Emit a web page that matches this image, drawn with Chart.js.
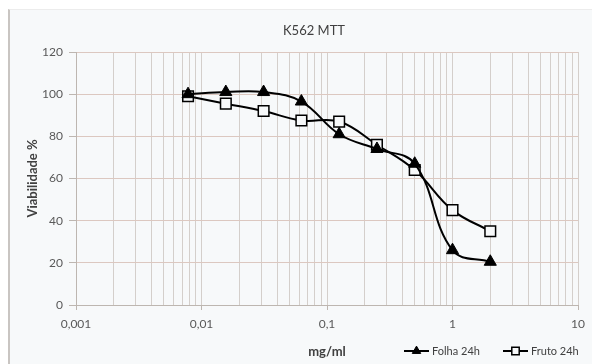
<!DOCTYPE html>
<html>
<head>
<meta charset="utf-8">
<script src="https://cdn.jsdelivr.net/npm/chart.js@4/dist/chart.umd.min.js"></script>
<style>
  html, body { margin: 0; padding: 0; background: #ffffff; }
  #wrap { position: absolute; left: 0; top: 0; width: 592px; height: 364px; }
  #frame { position: absolute; left: 8px; top: 9px; right: 0; bottom: 0;
           background: #f7f9fa; border-left: 2px solid #c9c5c2; border-top: 1px solid #ececec; }
  canvas { position: absolute; left: 0; top: 0; }
</style>
</head>
<body>
<div id="wrap">
  <div id="frame"></div>
  <canvas id="chart" width="592" height="364"></canvas>
</div>
<script>
// concentrations (mg/ml), serial 1:2 dilutions
const doses = [0.0078125, 0.015625, 0.03125, 0.0625, 0.125, 0.25, 0.5, 1, 2];
// viability (%)
const folha24h = [100, 101, 101, 96.5, 81, 74, 67, 26, 20.5];
const fruto24h = [99, 95.5, 92, 87.5, 87, 76, 64, 45, 35];
const yTicks = [0, 20, 40, 60, 80, 100, 120];
const xDecades = [0.001, 0.01, 0.1, 1, 10];

const FONT = "Lato, 'Open Sans', 'DejaVu Sans', sans-serif";

function pts(ys) {
  return doses.map((d, i) => ({ x: d, y: ys[i] }));
}

function isDecade(v) {
  return xDecades.some(d => Math.abs(v - d) / d < 1e-6);
}

// Excel centred the title a bit left of the plot centre
const titleShift = {
  id: "titleShift",
  afterLayout(chart) {
    if (chart.titleBlock) chart.titleBlock.left = 50;
  }
};

// legend drawn like Excel: short line with the marker on it
const lineLegend = {
  id: "lineLegend",
  afterDraw(chart) {
    const ctx = chart.ctx;
    const y = 351;
    const items = [{ ds: chart.data.datasets[0], x: 404 }, { ds: chart.data.datasets[1], x: 503 }];
    ctx.save();
    ctx.font = "11px " + FONT;
    ctx.textBaseline = "middle";
    items.forEach(it => {
      ctx.strokeStyle = "#000";
      ctx.lineWidth = 2;
      ctx.beginPath();
      ctx.moveTo(it.x, y);
      ctx.lineTo(it.x + 25, y);
      ctx.stroke();
      ctx.lineWidth = it.ds.pointBorderWidth;
      ctx.fillStyle = it.ds.pointBackgroundColor;
      ctx.strokeStyle = it.ds.pointBorderColor;
      Chart.helpers.drawPoint(ctx, {
        pointStyle: it.ds.pointStyle,
        rotation: 0,
        radius: it.ds.pointRadius * 0.7,
        borderWidth: it.ds.pointBorderWidth
      }, it.x + 12.5, y);
      ctx.fillStyle = "#404040";
      ctx.fillText(it.ds.label, it.x + 28, y);
    });
    ctx.restore();
  }
};

new Chart(document.getElementById("chart").getContext("2d"), {
  type: "line",
  data: {
    datasets: [
      {
        label: "Folha 24h",
        data: pts(folha24h),
        borderColor: "#000",
        borderWidth: 2,
        tension: 0.4,
        pointStyle: "triangle",
        pointRadius: 7,
        pointBackgroundColor: "#000",
        pointBorderColor: "#000",
        pointBorderWidth: 1
      },
      {
        label: "Fruto 24h",
        data: pts(fruto24h),
        borderColor: "#000",
        borderWidth: 2,
        tension: 0.4,
        pointStyle: "rect",
        pointRadius: 7.5,
        pointBackgroundColor: "#f7f9fa",
        pointBorderColor: "#000",
        pointBorderWidth: 1.5
      }
    ]
  },
  options: {
    responsive: false,
    animation: false,
    layout: { padding: { left: 12, right: 14, top: 10, bottom: 2 } },
    plugins: {
      legend: { display: false },
      tooltip: { enabled: false },
      title: {
        display: true,
        text: "K562 MTT",
        color: "#404040",
        font: { family: FONT, size: 13, weight: "normal" },
        padding: { top: 13, bottom: 13.4 }
      }
    },
    scales: {
      x: {
        type: "logarithmic",
        min: 0.001,
        max: 10,
        afterBuildTicks: scale => {
          const t = [];
          for (let k = -3; k <= 0; k++) {
            for (let m = 1; m <= 9; m++) t.push({ value: m * Math.pow(10, k) });
          }
          t.push({ value: 10 });
          scale.ticks = t;
        },
        afterFit: scale => { scale.height = 57; },
        ticks: {
          autoSkip: false,
          maxRotation: 0,
          padding: 7,
          color: "#595959",
          font: { family: FONT, size: 12 },
          callback: v => isDecade(v) ? String(v).replace(".", ",") : ""
        },
        grid: {
          color: "#d4cfcb",
          lineWidth: 1,
          tickLength: 5,
          tickColor: ctx => (ctx.tick && isDecade(ctx.tick.value)) ? "#bdb6b0" : "rgba(0,0,0,0)"
        },
        border: { color: "#bdb6b0", width: 1 },
        title: {
          display: true,
          text: "mg/ml",
          color: "#404040",
          font: { family: FONT, size: 13, weight: "bold" },
          padding: { top: 0, bottom: 2 }
        }
      },
      y: {
        min: 0,
        max: 120,
        afterBuildTicks: scale => { scale.ticks = yTicks.map(v => ({ value: v })); },
        afterFit: scale => { scale.width = 64; },
        ticks: {
          padding: 6,
          color: "#595959",
          font: { family: FONT, size: 12 }
        },
        grid: {
          color: "#dcc8c0",
          lineWidth: 1,
          tickLength: 7,
          tickColor: "#bdb6b0"
        },
        border: { color: "#bdb6b0", width: 1 },
        title: {
          display: true,
          text: "Viabilidade %",
          color: "#404040",
          font: { family: FONT, size: 13, weight: "bold" },
          padding: { top: 13, bottom: 0 }
        }
      }
    }
  },
  plugins: [titleShift, lineLegend]
});
</script>
</body>
</html>
